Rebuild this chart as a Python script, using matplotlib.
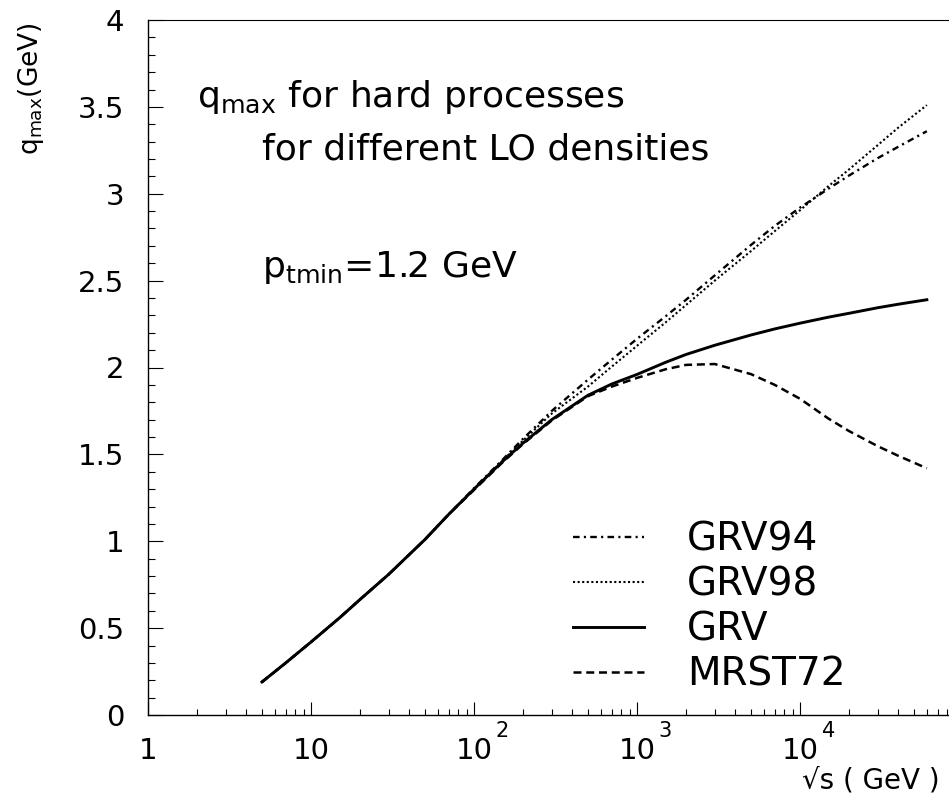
import numpy as np
import matplotlib
matplotlib.use('Agg')
import matplotlib.pyplot as plt
from matplotlib.ticker import LogLocator, MultipleLocator, NullFormatter

plt.rcParams['font.family'] = ['DejaVu Sans']
plt.rcParams['mathtext.fontset'] = 'dejavusans'
plt.rcParams['mathtext.default'] = 'regular'

# ── data ──
sqrt_s = [5, 7, 10, 15, 20, 30, 50, 70, 100, 150, 200, 300, 500, 700,
          1000, 1500, 2000, 3000, 5000, 7000, 1e4, 1.5e4, 2e4, 3e4, 4e4, 6e4]

grv94 = [0.19, 0.30, 0.42, 0.56, 0.665, 0.81, 1.01, 1.155, 1.305, 1.47,
         1.59, 1.75, 1.93, 2.045, 2.165, 2.295, 2.39, 2.53, 2.705, 2.815,
         2.92, 3.03, 3.105, 3.205, 3.27, 3.36]
grv98 = [0.19, 0.30, 0.42, 0.56, 0.665, 0.81, 1.01, 1.155, 1.30, 1.465,
         1.58, 1.735, 1.89, 2.005, 2.125, 2.26, 2.36, 2.50, 2.67, 2.785,
         2.905, 3.045, 3.14, 3.28, 3.38, 3.51]
grv = [0.19, 0.30, 0.42, 0.56, 0.665, 0.81, 1.01, 1.155, 1.30, 1.46,
       1.565, 1.70, 1.84, 1.905, 1.96, 2.03, 2.075, 2.128, 2.187, 2.222,
       2.255, 2.29, 2.312, 2.344, 2.364, 2.39]
mrst72 = [0.19, 0.30, 0.42, 0.56, 0.665, 0.81, 1.01, 1.155, 1.295, 1.455,
          1.56, 1.695, 1.835, 1.89, 1.94, 1.99, 2.015, 2.02, 1.962, 1.90,
          1.82, 1.705, 1.634, 1.547, 1.492, 1.42]

x_major = [1, 10, 100, 1000, 1e4, 1e5]
x_major_labels = ['1', '10', '10', '10', '10', '']
x_exponents = [2, 3, 4]
y_major = [0, 0.5, 1, 1.5, 2, 2.5, 3, 3.5, 4]
y_major_labels = ['0', '0.5', '1', '1.5', '2', '2.5', '3', '3.5', '4']

# ── figure ──
W, H = 949, 793
fig = plt.figure(figsize=(W / 100, H / 100), dpi=100)
# axes runs a bit past the right edge, like the cropped original
ax = fig.add_axes([148 / W, 1 - 715 / H, (963 - 148) / W, (715 - 20) / H])

ax.plot(sqrt_s, grv94, color='black', lw=1.7,
        dashes=(2.8, 1.8, 0.9, 1.8), label='GRV94')
ax.plot(sqrt_s, grv98, color='black', lw=1.5,
        dashes=(1.0, 1.2), label='GRV98')
ax.plot(sqrt_s, grv, color='black', lw=2.1, label='GRV')
ax.plot(sqrt_s, mrst72, color='black', lw=1.8,
        dashes=(3.2, 1.9), label='MRST72')

ax.set_xscale('log')
ax.set_xlim(1, 1e5)
ax.set_ylim(0, 4)

ax.set_xticks(x_major, labels=x_major_labels)
ax.xaxis.set_minor_locator(LogLocator(base=10, subs=np.arange(2, 10),
                                      numticks=30))
ax.xaxis.set_minor_formatter(NullFormatter())
ax.set_yticks(y_major, labels=y_major_labels)
ax.yaxis.set_minor_locator(MultipleLocator(0.1))

ax.tick_params(axis='both', which='both', direction='in',
               top=False, right=False, width=0.8, colors='black')
ax.tick_params(axis='y', which='major', length=11, pad=17, labelsize=21)
ax.tick_params(axis='y', which='minor', length=5)
ax.tick_params(axis='x', which='major', length=9.5, pad=16, labelsize=21)
ax.tick_params(axis='x', which='minor', length=4.5)

for e in x_exponents:
    ax.annotate(str(e), xy=(10 ** e, 0),
                xycoords=('data', 'axes fraction'),
                xytext=(15.5, -4.5), textcoords='offset points',
                ha='left', va='top', fontsize=15)

ax.spines['right'].set_visible(False)
for s in ['left', 'bottom']:
    ax.spines[s].set_linewidth(1.0)
ax.spines['top'].set_linewidth(0.8)

# ── annotations ──
ax.text(0.060, 0.875, 'q$_{max}$ for hard processes',
        transform=ax.transAxes, fontsize=26, va='baseline')
ax.text(0.140, 0.799, 'for different LO densities',
        transform=ax.transAxes, fontsize=26, va='baseline')
ax.text(0.140, 0.630, 'p$_{tmin}$=1.2 GeV',
        transform=ax.transAxes, fontsize=26, va='baseline')

# ── axis titles (ROOT style, at the ends) ──
fig.text(31 / W, 1 - 22 / H, 'q$_{max}$(GeV)', rotation=90,
         ha='center', va='top', fontsize=19)
fig.text(940 / W, 1 - 788 / H, '√s ( GeV )', ha='right',
         va='baseline', fontsize=20)

# ── legend ──
ax.legend(loc='upper left', bbox_to_anchor=(0.5215, 0.280),
          frameon=False, fontsize=28, borderpad=0, borderaxespad=0,
          handlelength=1.83, handletextpad=1.1, labelspacing=0.18)

plt.savefig('out.png', dpi=100)
plt.close()
